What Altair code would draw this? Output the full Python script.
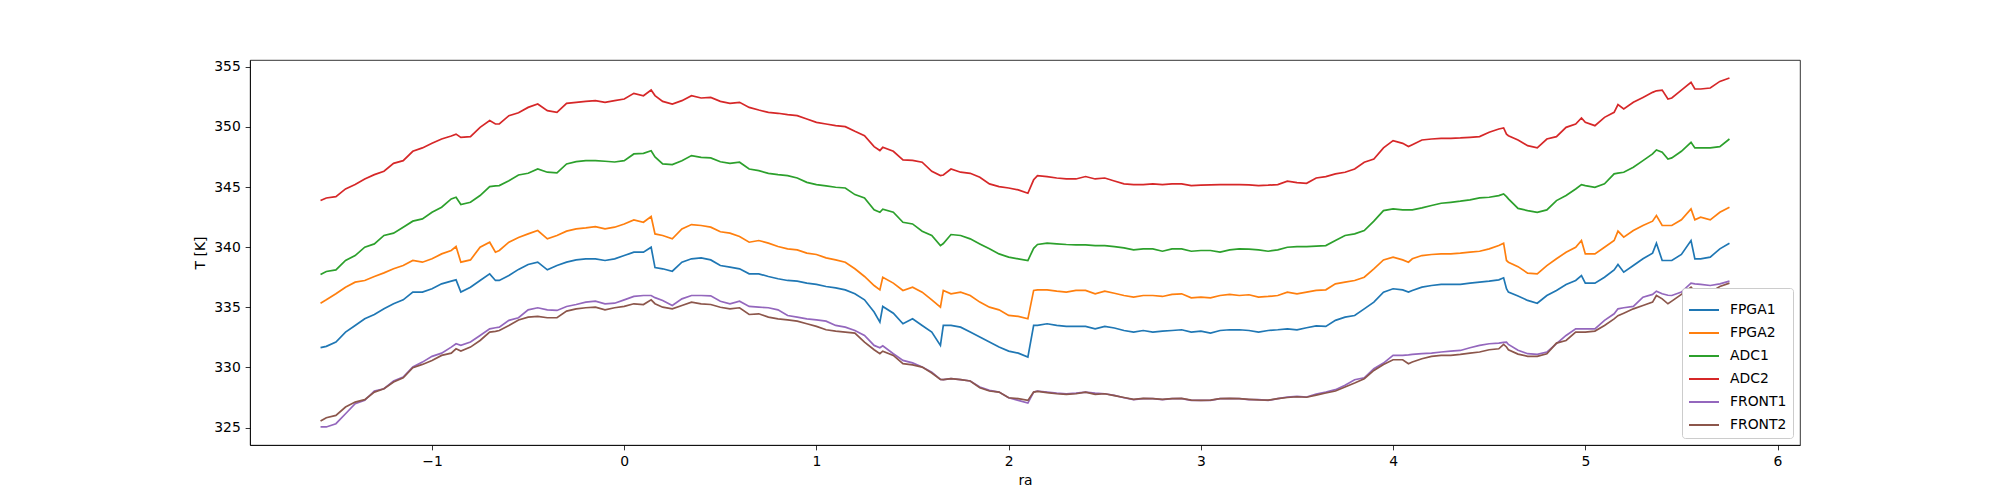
import altair as alt
import pandas as pd

# x positions (ra) shared by all series
RA = [
    -1.58, -1.55, -1.50, -1.45, -1.40, -1.35, -1.30, -1.25, -1.20, -1.15,
    -1.10, -1.05, -1.00, -0.95, -0.90, -0.875, -0.85, -0.80, -0.75, -0.70,
    -0.67, -0.65, -0.60, -0.55, -0.50, -0.45, -0.40, -0.35, -0.30, -0.25,
    -0.20, -0.15, -0.10, -0.05, 0.00, 0.05, 0.10, 0.14, 0.16, 0.20,
    0.25, 0.30, 0.35, 0.40, 0.45, 0.50, 0.55, 0.60, 0.65, 0.70,
    0.75, 0.80, 0.85, 0.90, 0.95, 1.00, 1.05, 1.10, 1.15, 1.20,
    1.25, 1.30, 1.33, 1.345, 1.40, 1.45, 1.50, 1.55, 1.60, 1.645,
    1.66, 1.70, 1.75, 1.80, 1.85, 1.90, 1.95, 2.00, 2.05, 2.10,
    2.13, 2.15, 2.20, 2.25, 2.30, 2.35, 2.40, 2.45, 2.50, 2.55,
    2.60, 2.65, 2.70, 2.75, 2.80, 2.85, 2.90, 2.95, 3.00, 3.05,
    3.10, 3.15, 3.20, 3.25, 3.30, 3.35, 3.40, 3.45, 3.50, 3.55,
    3.60, 3.65, 3.70, 3.75, 3.80, 3.85, 3.90, 3.95, 4.00, 4.05,
    4.08, 4.10, 4.15, 4.20, 4.25, 4.30, 4.35, 4.40, 4.45, 4.50,
    4.55, 4.575, 4.59, 4.60, 4.65, 4.70, 4.75, 4.80, 4.85, 4.90,
    4.95, 4.98, 5.00, 5.05, 5.10, 5.15, 5.17, 5.20, 5.25, 5.30,
    5.35, 5.37, 5.40, 5.43, 5.45, 5.50, 5.55, 5.57, 5.60, 5.65,
    5.70, 5.75,
]

FPGA1 = [
    331.64, 331.75, 332.11, 332.94, 333.49, 334.04, 334.40, 334.87, 335.29, 335.62,
    336.26, 336.26, 336.54, 336.95, 337.17, 337.28, 336.26, 336.67, 337.23, 337.78,
    337.23, 337.23, 337.64, 338.15, 338.56, 338.75, 338.11, 338.47, 338.75, 338.94,
    339.03, 339.03, 338.89, 339.03, 339.30, 339.58, 339.58, 339.99, 338.30, 338.20,
    338.00, 338.75, 339.03, 339.11, 338.94, 338.47, 338.34, 338.20, 337.78, 337.78,
    337.56, 337.37, 337.23, 337.17, 337.01, 336.90, 336.73, 336.62, 336.45, 336.12,
    335.62, 334.60, 333.77, 335.07, 334.51, 333.63, 334.04, 333.49, 332.94, 331.83,
    333.49, 333.49, 333.35, 332.94, 332.52, 332.11, 331.69, 331.36, 331.19, 330.86,
    333.49, 333.49, 333.63, 333.49, 333.41, 333.41, 333.41, 333.21, 333.41, 333.28,
    333.07, 332.94, 333.07, 332.94, 333.02, 333.07, 333.13, 332.94, 333.02, 332.85,
    333.07, 333.13, 333.13, 333.07, 332.94, 333.07, 333.13, 333.21, 333.13, 333.30,
    333.45, 333.41, 333.91, 334.18, 334.32, 334.87, 335.43, 336.26, 336.54, 336.45,
    336.26, 336.40, 336.67, 336.81, 336.90, 336.90, 336.90, 337.01, 337.09, 337.17,
    337.28, 337.45, 336.54, 336.26, 335.94, 335.57, 335.34, 335.98, 336.40, 336.90,
    337.23, 337.64, 337.01, 337.01, 337.50, 338.11, 338.56, 337.92, 338.47, 339.03,
    339.50, 340.33, 338.89, 338.89, 338.89, 339.39, 340.55, 339.03, 339.03, 339.17,
    339.86, 340.33,
]

FPGA2 = [
    335.34, 335.62, 336.12, 336.67, 337.09, 337.23, 337.56, 337.86, 338.20, 338.47,
    338.89, 338.75, 339.03, 339.44, 339.72, 340.05, 338.75, 338.94, 339.99, 340.41,
    339.58, 339.72, 340.41, 340.80, 341.10, 341.38, 340.69, 340.97, 341.33, 341.52,
    341.60, 341.71, 341.52, 341.66, 341.93, 342.27, 342.07, 342.55, 341.10, 340.97,
    340.69, 341.52, 341.88, 341.80, 341.66, 341.28, 341.16, 340.88, 340.41, 340.55,
    340.33, 340.05, 339.86, 339.77, 339.50, 339.39, 339.11, 338.94, 338.75, 338.20,
    337.56, 336.81, 336.45, 337.50, 337.01, 336.40, 336.67, 336.26, 335.62, 335.01,
    336.40, 336.12, 336.26, 335.98, 335.43, 335.01, 334.79, 334.32, 334.24, 334.04,
    336.40, 336.45, 336.45, 336.34, 336.26, 336.40, 336.40, 336.12, 336.34, 336.17,
    335.98, 335.84, 335.98, 335.98, 335.90, 336.07, 336.12, 335.79, 335.84, 335.79,
    335.98, 336.07, 335.98, 336.04, 335.84, 335.90, 335.98, 336.26, 336.12, 336.26,
    336.40, 336.45, 336.95, 337.09, 337.23, 337.50, 338.20, 338.94, 339.17, 338.94,
    338.75, 339.03, 339.30, 339.39, 339.44, 339.44, 339.50, 339.58, 339.66, 339.86,
    340.13, 340.33, 338.89, 338.75, 338.38, 337.84, 337.78, 338.47, 339.03, 339.58,
    339.99, 340.55, 339.44, 339.44, 339.99, 340.55, 341.33, 340.83, 341.38, 341.80,
    342.16, 342.63, 341.80, 341.80, 341.80, 342.27, 343.18, 342.27, 342.49, 342.27,
    342.90, 343.32,
]

ADC1 = [
    337.73, 337.98, 338.11, 338.89, 339.30, 340.00, 340.27, 340.97, 341.16, 341.66,
    342.16, 342.35, 342.90, 343.32, 344.01, 344.15, 343.54, 343.73, 344.29, 345.03,
    345.10, 345.12, 345.53, 346.00, 346.14, 346.50, 346.23, 346.17, 346.92, 347.11,
    347.19, 347.19, 347.14, 347.08, 347.19, 347.75, 347.80, 348.02, 347.50, 346.92,
    346.86, 347.19, 347.61, 347.47, 347.42, 347.10, 346.97, 347.06, 346.50, 346.36,
    346.14, 346.03, 345.95, 345.75, 345.39, 345.20, 345.09, 344.98, 344.92, 344.37,
    344.09, 343.10, 342.90, 343.15, 342.90, 342.07, 341.93, 341.33, 340.97, 340.13,
    340.30, 341.05, 340.97, 340.69, 340.27, 339.86, 339.44, 339.17, 339.03, 338.89,
    339.90, 340.22, 340.33, 340.27, 340.22, 340.19, 340.19, 340.13, 340.13, 340.05,
    339.94, 339.77, 339.86, 339.86, 339.66, 339.86, 339.86, 339.66, 339.72, 339.72,
    339.58, 339.77, 339.86, 339.83, 339.77, 339.66, 339.77, 339.99, 340.05, 340.05,
    340.09, 340.13, 340.55, 340.97, 341.10, 341.38, 342.16, 343.04, 343.18, 343.10,
    343.10, 343.10, 343.26, 343.46, 343.65, 343.73, 343.82, 343.93, 344.09, 344.15,
    344.29, 344.43, 344.20, 344.01, 343.22, 343.04, 342.90, 343.10, 343.87, 344.29,
    344.84, 345.20, 345.12, 344.98, 345.26, 346.09, 346.15, 346.23, 346.64, 347.19,
    347.75, 348.08, 347.89, 347.33, 347.42, 347.97, 348.72, 348.25, 348.25, 348.25,
    348.36, 348.99,
]

ADC2 = [
    343.87, 344.09, 344.20, 344.84, 345.20, 345.67, 346.03, 346.31, 346.97, 347.19,
    347.97, 348.25, 348.63, 348.99, 349.24, 349.40, 349.13, 349.19, 349.96, 350.52,
    350.24, 350.24, 350.93, 351.17, 351.62, 351.90, 351.35, 351.21, 351.96, 352.04,
    352.12, 352.18, 352.04, 352.18, 352.32, 352.79, 352.59, 353.06, 352.60, 352.12,
    351.90, 352.18, 352.59, 352.40, 352.45, 352.12, 351.96, 352.04, 351.62, 351.40,
    351.21, 351.13, 351.02, 350.93, 350.66, 350.38, 350.24, 350.10, 350.02, 349.63,
    349.27, 348.36, 348.03, 348.30, 347.97, 347.25, 347.22, 347.06, 346.31, 345.95,
    346.00, 346.50, 346.23, 346.14, 345.81, 345.26, 345.03, 344.92, 344.76, 344.48,
    345.60, 345.95, 345.87, 345.75, 345.67, 345.67, 345.87, 345.67, 345.75, 345.50,
    345.26, 345.20, 345.20, 345.26, 345.20, 345.26, 345.26, 345.12, 345.15, 345.17,
    345.20, 345.20, 345.20, 345.17, 345.12, 345.15, 345.20, 345.48, 345.37, 345.31,
    345.75, 345.87, 346.09, 346.23, 346.50, 347.06, 347.33, 348.25, 348.86, 348.63,
    348.36, 348.52, 348.91, 348.99, 349.05, 349.05, 349.08, 349.13, 349.19, 349.55,
    349.82, 349.91, 349.40, 349.27, 348.91, 348.44, 348.25, 348.99, 349.19, 349.96,
    350.24, 350.74, 350.38, 350.10, 350.79, 351.21, 351.85, 351.49, 352.04, 352.45,
    352.87, 353.00, 353.06, 352.32, 352.40, 353.06, 353.70, 353.15, 353.15, 353.23,
    353.78, 354.06,
]

FRONT1 = [
    325.05, 325.05, 325.32, 326.15, 326.98, 327.26, 328.04, 328.23, 328.87, 329.20,
    330.03, 330.44, 330.92, 331.19, 331.69, 331.97, 331.83, 332.11, 332.66, 333.21,
    333.30, 333.35, 333.91, 334.13, 334.79, 334.96, 334.79, 334.74, 335.07, 335.23,
    335.43, 335.51, 335.29, 335.34, 335.62, 335.90, 335.98, 335.98, 335.80, 335.57,
    335.15, 335.70, 335.98, 335.98, 335.95, 335.50, 335.29, 335.51, 335.07, 335.01,
    334.96, 334.79, 334.32, 334.18, 334.04, 333.96, 333.85, 333.49, 333.35, 333.07,
    332.66, 331.83, 331.64, 331.80, 331.14, 330.58, 330.38, 330.03, 329.61, 329.00,
    328.98, 329.06, 328.98, 328.87, 328.37, 328.09, 327.95, 327.48, 327.26, 327.04,
    327.95, 328.04, 327.95, 327.87, 327.81, 327.87, 327.95, 327.87, 327.81, 327.68,
    327.48, 327.32, 327.40, 327.40, 327.32, 327.40, 327.40, 327.26, 327.26, 327.26,
    327.40, 327.40, 327.40, 327.32, 327.32, 327.26, 327.40, 327.54, 327.59, 327.54,
    327.78, 327.95, 328.15, 328.51, 328.98, 329.14, 329.89, 330.36, 331.00, 331.00,
    331.04, 331.08, 331.14, 331.19, 331.28, 331.36, 331.41, 331.64, 331.83, 331.97,
    332.02, 332.08, 332.10, 331.91, 331.42, 331.14, 331.08, 331.28, 331.97, 332.66,
    333.21, 333.21, 333.21, 333.21, 333.91, 334.46, 334.87, 334.96, 335.07, 335.84,
    336.07, 336.34, 336.12, 336.00, 335.98, 336.26, 337.01, 336.95, 336.90, 336.81,
    336.95, 337.17,
]

FRONT2 = [
    325.54, 325.82, 326.01, 326.71, 327.12, 327.32, 327.95, 328.23, 328.78, 329.14,
    329.97, 330.25, 330.58, 331.00, 331.19, 331.55, 331.36, 331.69, 332.24, 332.94,
    333.00, 333.07, 333.49, 333.95, 334.18, 334.24, 334.13, 334.13, 334.68, 334.87,
    334.96, 335.01, 334.79, 334.96, 335.07, 335.29, 335.23, 335.62, 335.30, 335.01,
    334.87, 335.15, 335.43, 335.29, 335.23, 335.00, 334.87, 334.96, 334.40, 334.46,
    334.18, 334.04, 333.96, 333.85, 333.63, 333.41, 333.13, 333.02, 332.94, 332.85,
    332.11, 331.47, 331.14, 331.35, 331.00, 330.31, 330.21, 330.03, 329.53, 329.00,
    328.98, 329.06, 328.98, 328.87, 328.31, 328.04, 327.95, 327.48, 327.40, 327.26,
    327.95, 328.01, 327.90, 327.81, 327.76, 327.81, 327.95, 327.76, 327.81, 327.65,
    327.50, 327.35, 327.42, 327.40, 327.35, 327.40, 327.42, 327.28, 327.26, 327.28,
    327.40, 327.42, 327.40, 327.35, 327.30, 327.28, 327.40, 327.50, 327.56, 327.52,
    327.70, 327.87, 328.04, 328.37, 328.70, 329.06, 329.75, 330.25, 330.64, 330.64,
    330.31, 330.45, 330.72, 330.92, 331.00, 331.00, 331.08, 331.19, 331.28, 331.47,
    331.55, 331.91, 331.70, 331.47, 331.11, 330.92, 330.92, 331.14, 332.02, 332.24,
    332.94, 332.94, 332.94, 333.02, 333.49, 334.04, 334.30, 334.51, 334.87, 335.15,
    335.43, 335.98, 335.70, 335.29, 335.51, 336.07, 336.67, 336.30, 336.34, 336.26,
    336.73, 337.01,
]

SERIES = ["FPGA1", "FPGA2", "ADC1", "ADC2", "FRONT1", "FRONT2"]
COLORS = ["#1f77b4", "#ff7f0e", "#2ca02c", "#d62728", "#9467bd", "#8c564b"]
X_TICKS = [-1, 0, 1, 2, 3, 4, 5, 6]
Y_TICKS = [325, 330, 335, 340, 345, 350, 355]

values = [FPGA1, FPGA2, ADC1, ADC2, FRONT1, FRONT2]
rows = []
for name, vals in zip(SERIES, values):
    assert len(vals) == len(RA), (name, len(vals), len(RA))
    for x, y in zip(RA, vals):
        rows.append({"ra": x, "T": y, "sensor": name})
df = pd.DataFrame(rows)

FONT = "DejaVu Sans"
FS = 13.9

chart = (
    alt.Chart(df)
    .mark_line(strokeWidth=1.7)
    .encode(
        x=alt.X(
            "ra:Q",
            title="ra",
            scale=alt.Scale(domain=[-1.947, 6.117], nice=False, zero=False),
            axis=alt.Axis(values=X_TICKS, format="d"),
        ),
        y=alt.Y(
            "T:Q",
            title="T [K]",
            scale=alt.Scale(domain=[323.55, 355.56], nice=False, zero=False),
            axis=alt.Axis(values=Y_TICKS, format="d"),
        ),
        color=alt.Color(
            "sensor:N",
            scale=alt.Scale(domain=SERIES, range=COLORS),
            sort=SERIES,
            legend=alt.Legend(
                title=None,
                orient="bottom-right",
                offset=7,
                symbolType="stroke",
                symbolSize=900,
                symbolStrokeWidth=2,
                labelFont=FONT,
                labelFontSize=FS,
                labelColor="black",
                labelOffset=10,
                rowPadding=-11,
                padding=6,
                fillColor="white",
                strokeColor="#cccccc",
                cornerRadius=3,
            ),
        ),
        order=alt.Order("ra:Q"),
    )
    .properties(
        width=1550,
        height=385,
        autosize=alt.AutoSizeParams(type="none"),
        padding={"left": 242, "top": 52, "right": 150, "bottom": 60},
    )
    .configure_view(stroke="black", strokeWidth=0.8)
    .configure_axis(
        grid=False,
        domainColor="black",
        domainWidth=0.8,
        tickColor="black",
        tickWidth=0.8,
        tickSize=4.86,
        labelPadding=4.86,
        labelFont=FONT,
        labelFontSize=FS,
        labelColor="black",
        titleFont=FONT,
        titleFontSize=FS,
        titleFontWeight="normal",
        titleColor="black",
    )
    .configure_axisX(titlePadding=5)
    .configure_axisY(titlePadding=6)
)

chart.save("out.html", embed_options={"renderer": "svg", "actions": False})
